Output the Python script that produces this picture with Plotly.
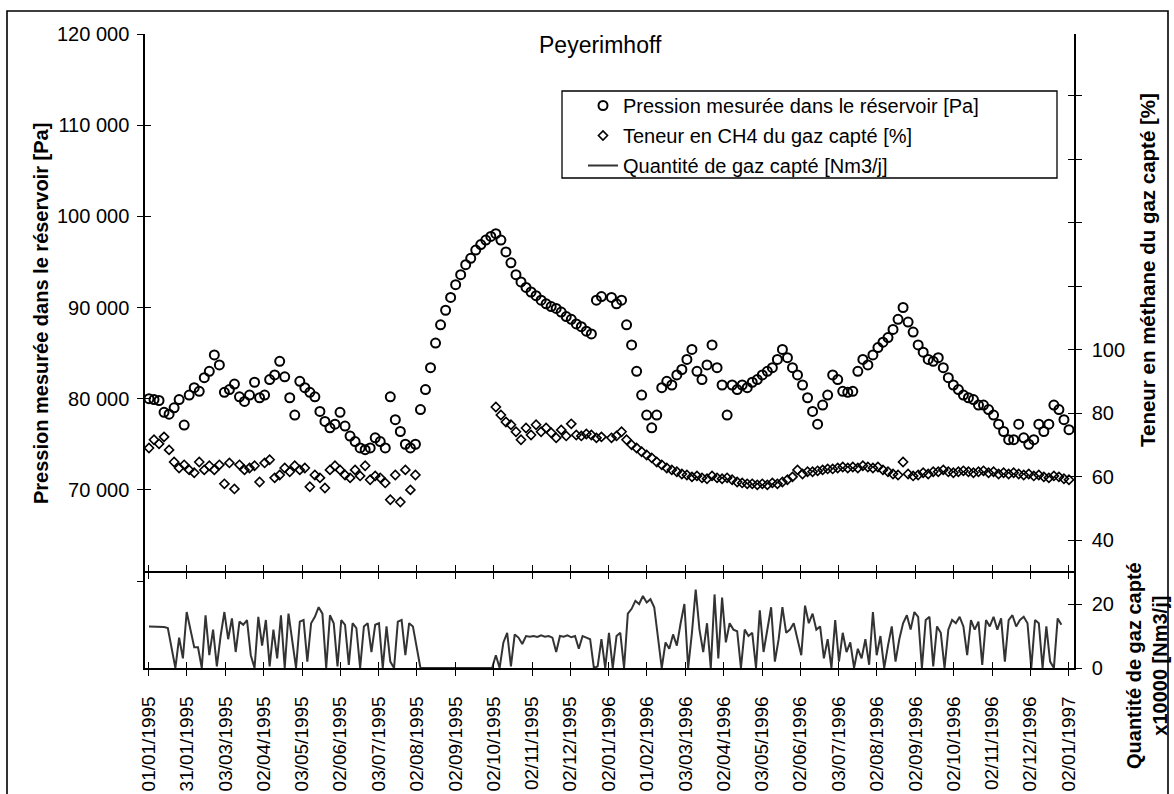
import numpy as np
import pandas as pd
import plotly.graph_objects as go

# ---------------- data ----------------
tick_labels = [
    "01/01/1995", "31/01/1995", "03/03/1995", "02/04/1995", "03/05/1995",
    "02/06/1995", "03/07/1995", "02/08/1995", "02/09/1995", "02/10/1995",
    "02/11/1995", "02/12/1995", "02/01/1996", "01/02/1996", "03/03/1996",
    "02/04/1996", "03/05/1996", "02/06/1996", "03/07/1996", "02/08/1996",
    "02/09/1996", "02/10/1996", "02/11/1996", "02/12/1996", "02/01/1997",
]

# reservoir pressure [Pa], one reading every 4 days (reading for 31/12/1995 dropped)
pression_pa = [
    80000, 79900, 79800, 78500, 78300, 79000, 79900, 77100, 80400, 81200,
    80800, 82300, 83000, 84800, 83700, 80700, 81000, 81600, 80200, 79700,
    80400, 81800, 80100, 80400, 82100, 82600, 84100, 82400, 80100, 78200,
    81900, 81200, 80700, 80200, 78600, 77500, 76800, 77200, 78500, 77000,
    75900, 75300, 74600, 74400, 74600, 75700, 75300, 74600, 80200, 77700,
    76400, 75000, 74600, 75000, 78800, 81000, 83400, 86100, 88100, 89700,
    91100, 92500, 93600, 94700, 95400, 96300, 96900, 97400, 97800, 98100,
    97400, 96100, 94900, 93600, 92800, 92200, 91700, 91300, 90800, 90400,
    90100, 89900, 89500, 89000, 88700, 88200, 87900, 87400, 87100, 90800,
    91200, 91100, 90400, 90800, 88100, 85900, 83000, 80400, 78200,
    76800, 78200, 81200, 81900, 81500, 82600, 83200, 84300, 85400, 83000,
    82100, 83700, 85900, 83400, 81500, 78200, 81500, 81000, 81500, 81200,
    81800, 82100, 82600, 83000, 83400, 84300, 85400, 84500, 83400, 82600,
    81500, 80100, 78600, 77200, 79300, 80400, 82600, 82100, 80800, 80700,
    80800, 83000, 84300, 83700, 84800, 85600, 86200, 86700, 87600, 88700,
    90000, 88400, 87300, 85900, 85100, 84300, 84100, 84500, 83400, 82300,
    81500, 81000, 80400, 80100, 79900, 79300, 79300, 78800, 78200, 77200,
    76400, 75500, 75500, 77200, 75700, 75000, 75500, 77200, 76400, 77200,
    79300, 78800, 77700, 76600,
]

# CH4 content of captured gas [%], same dates (None = no measurement)
teneur_ch4 = [
    69.1, 71.7, 70.4, 72.6, 68.5, 64.7, 62.8, 63.8, 62.2, 61.3,
    64.7, 62.2, 63.5, 62.2, 63.8, 57.8, 64.4, 56.2, 63.8, 62.2,
    62.8, 63.5, 58.4, 64.4, 65.4, 59.7, 60.6, 62.8, 61.6, 63.5,
    62.2, 62.8, 56.9, 60.6, 59.7, 56.5, 62.2, 63.5, 62.2, 60.6,
    59.7, 62.2, 60.3, 63.5, 59.1, 60.3, 59.7, 58.1, 52.8, 60.6,
    52.1, 62.2, 55.9, 60.6,
    None, None, None, None, None, None, None, None, None, None,
    None, None, None, None, None,
    82.0, 79.5, 77.3, 76.4, 74.2, 71.7, 75.4, 73.2, 76.4, 74.2, 75.4,
    73.9, 72.3, 74.8, 72.9, 76.7, 73.2, 72.9, 73.5, 73.2, 72.3,
    72.6, 72.3, 72.9, 74.2, 71.7, 70.1, 69.1, 67.9, 66.9,
    66.0, 64.7, 63.8, 62.8, 62.2, 61.6, 60.9, 60.6, 60.0, 60.3,
    59.7, 59.4, 60.3, 59.7, 59.4, 59.7, 59.1, 58.4, 58.1, 57.8,
    57.8, 57.5, 57.8, 57.5, 58.1, 57.8, 58.4, 59.1, 60.0, 62.2,
    60.9, 61.6, 61.6, 61.9, 62.2, 62.5, 62.5, 62.8, 63.1, 62.8,
    63.1, 62.8, 63.5, 63.1, 62.8, 63.1, 62.2, 61.6, 60.9, 60.6,
    64.7, 60.9, 60.3, 60.6, 61.3, 60.9, 61.6, 61.6, 62.2, 61.6,
    61.3, 61.6, 61.9, 61.6, 61.3, 61.6, 61.9, 61.3, 61.6, 60.9,
    61.3, 60.9, 61.3, 60.9, 60.6, 60.9, 60.3, 60.6, 60.0, 59.7,
    60.3, 60.0, 59.4, 59.1,
]

# captured gas quantity [x10000 Nm3/j], one reading every 3 days
quantite_gaz = [
    13.0, 13.0, 12.8, 13.0, 12.8, 12.5, 6.0, 0.0, 9.5, 3.0,
    17.5, 12.0, 6.5, 6.5, 0.0, 16.5, 4.0, 12.0, 0.5, 10.0,
    17.5, 9.0, 15.5, 5.0, 14.5, 13.5, 15.0, 4.0, 0.0, 16.0,
    7.0, 15.0, 0.5, 12.0, 3.0, 16.5, 0.0, 17.0, 9.0, 0.0,
    14.5, 15.0, 2.0, 14.0, 16.0, 19.0, 17.0, 0.0, 16.5, 14.0,
    0.5, 15.0, 13.5, 1.0, 14.0, 12.5, 0.0, 13.0, 14.0, 5.0,
    13.5, 14.0, 0.0, 13.0, 2.0, 0.0, 14.5, 15.0, 4.0, 14.0,
    13.0, 6.0,
    0.0, 0.0, 0.0, 0.0, 0.0, 0.0, 0.0, 0.0, 0.0, 0.0,
    0.0, 0.0, 0.0, 0.0, 0.0, 0.0, 0.0, 0.0, 0.0, 0.0,
    4.0, 0.0, 8.0, 11.0, 0.5, 10.5, 9.5, 7.5,
    10.0, 9.8, 10.0, 9.7, 10.2, 9.8, 10.0, 9.5, 5.0, 10.0,
    9.8, 10.2, 9.6, 10.0, 6.0, 10.0, 9.5, 9.0, 0.0, 0.5,
    9.0, 0.0, 11.0, 0.0, 10.0, 11.0, 0.0, 17.0, 18.5, 21.0,
    20.0, 22.5, 20.5, 21.5, 19.0, 10.0, 0.0, 8.0, 6.0, 10.5,
    7.0, 14.0, 20.0, 0.0, 11.0, 24.5, 12.0, 5.0, 14.0, 0.0,
    23.0, 3.0, 22.0, 8.0, 14.0, 12.0, 11.5, 0.0, 12.0, 10.0,
    11.0, 0.0, 18.0, 5.0, 12.0, 19.0, 2.0, 9.0, 19.0, 11.0,
    12.0, 14.0, 9.0, 4.0, 19.5, 14.0, 17.0, 12.0, 13.0, 3.0,
    9.0, 0.0, 15.0, 2.0, 11.0, 5.0, 8.0, 0.0, 6.0, 3.0,
    9.0, 1.0, 17.5, 4.0, 10.0, 0.0, 7.0, 13.0, 2.0, 9.0,
    14.0, 16.5, 12.0, 17.5, 16.0, 0.0, 15.0, 16.0, 0.5, 13.0,
    11.0, 0.0, 12.0, 15.0, 14.0, 16.0, 13.0, 4.0, 15.0, 12.0,
    14.5, 1.0, 15.0, 13.0, 16.0, 12.0, 15.5, 2.0, 15.0, 16.5,
    13.0, 15.0, 16.0, 14.0, 0.0, 15.0, 14.0, 0.0, 13.0, 2.0,
    0.0, 15.5, 13.5,
]

pression_ticks = [60000, 70000, 80000, 90000, 100000, 110000, 120000]
pression_ticktext = ["", "70 000", "80 000", "90 000", "100 000", "110 000", "120 000"]
ch4_ticks = [40, 60, 80, 100, 120, 140, 160, 180, 200]
ch4_ticktext = ["40", "60", "80", "100", "", "", "", "", ""]
gaz_ticks = [0, 20]

# ---------------- dates ----------------
dates_4j = pd.date_range("1995-01-01", periods=184, freq="4D").delete(91)
dates_3j = pd.date_range("1995-01-01", periods=len(quantite_gaz), freq="3D")
tick_dates = pd.to_datetime(tick_labels, format="%d/%m/%Y")

# ---------------- geometry ----------------
W, H = 1174, 794
L, R, T, B = 145, 100, 34, 126
PW, PH = W - L - R, H - T - B


def px(x):
    return (x - L) / PW


def py(y):
    return (H - B - y) / PH


FONT = "Liberation Sans, Arial, Helvetica, sans-serif"
xr = ["1994-12-28 20:00", "1997-01-06"]
dq = py(573)
dm = py(581)

fig = go.Figure()

fig.add_trace(go.Scatter(
    x=dates_4j, y=pression_pa, xaxis="x2", yaxis="y2", mode="markers",
    name="Pression mesurée dans le réservoir [Pa]", legendgroup="a",
    marker=dict(symbol="circle-open", size=9, color="black", line=dict(width=2, color="black")),
))
fig.add_trace(go.Scatter(
    x=dates_4j, y=teneur_ch4, xaxis="x2", yaxis="y3", mode="markers",
    name="Teneur en CH4 du gaz capté [%]", legendgroup="b",
    marker=dict(symbol="diamond-open", size=7, color="black", line=dict(width=1.6, color="black")),
))
fig.add_trace(go.Scatter(
    x=dates_3j, y=quantite_gaz, xaxis="x", yaxis="y", mode="lines",
    name="Quantité de gaz capté [Nm3/j]", legendgroup="c",
    line=dict(color="#333333", width=2),
))
# empty traces registering the overlay axes used for crossing ticks
for xa, ya in [("x3", "y"), ("x", "y4"), ("x2", "y5"), ("x2", "y6")]:
    fig.add_trace(go.Scatter(x=[], y=[], xaxis=xa, yaxis=ya, showlegend=False, hoverinfo="skip"))

axis_common = dict(showgrid=False, zeroline=False, tickcolor="black", tickwidth=1.4, ticklen=6,
                   linecolor="black", linewidth=1.5, automargin=False,
                   tickfont=dict(size=20, family=FONT, color="black"))
xaxis_common = dict(axis_common, tickfont=dict(size=19, family=FONT, color="black"))

fig.update_layout(
    width=W, height=H,
    margin=dict(l=L, r=R, t=T, b=B, autoexpand=False),
    paper_bgcolor="white", plot_bgcolor="rgba(0,0,0,0)",
    font=dict(family=FONT, size=20, color="black"),
    showlegend=True,
    legend=dict(x=px(583), y=py(86), xanchor="left", yanchor="top",
                borderwidth=0, bgcolor="rgba(0,0,0,0)",
                font=dict(size=20, family=FONT, color="black"),
                traceorder="grouped", tracegroupgap=1, itemwidth=30),
    xaxis=dict(domain=[0, 1], anchor="y", type="date", range=xr, tickmode="array",
               tickvals=tick_dates, ticktext=tick_labels, tickangle=-90, ticks="outside",
               showline=True, mirror="ticks", ticklabelstandoff=13, **xaxis_common),
    xaxis3=dict(overlaying="x", anchor="y", type="date", range=xr, tickmode="array",
                tickvals=tick_dates, ticks="inside", mirror="ticks", showline=False,
                showticklabels=False, **xaxis_common),
    xaxis2=dict(domain=[0, 1], anchor="y2", type="date", range=xr, visible=False),
    yaxis=dict(domain=[0, dq], anchor="x", side="right", range=[0, 29.7], tickmode="array",
               tickvals=gaz_ticks, ticks="outside", showline=True, mirror=True,
               ticklabelstandoff=6, **axis_common),
    yaxis4=dict(overlaying="y", anchor="x", side="right", range=[0, 29.7], tickmode="array",
                tickvals=gaz_ticks, ticks="inside", showline=False, showticklabels=False, **axis_common),
    yaxis2=dict(domain=[dm, 1], anchor="x2", side="left", range=[60000, 120000], tickmode="array",
                tickvals=pression_ticks, ticktext=pression_ticktext, ticks="outside", showline=True,
                ticklabelstandoff=4, **axis_common),
    yaxis5=dict(overlaying="y2", anchor="x2", side="left", range=[60000, 120000], tickmode="array",
                tickvals=pression_ticks, ticks="inside", showline=False, showticklabels=False, **axis_common),
    yaxis3=dict(overlaying="y2", anchor="x2", side="right", range=[27.2, 199.5], tickmode="array",
                tickvals=ch4_ticks, ticktext=ch4_ticktext, ticks="outside", showline=True,
                ticklabelstandoff=6, **axis_common),
    yaxis6=dict(overlaying="y2", anchor="x2", side="right", range=[27.2, 199.5], tickmode="array",
                tickvals=ch4_ticks, ticks="inside", showline=False, showticklabels=False, **axis_common),
)

ann_common = dict(xref="paper", yref="paper", showarrow=False, xanchor="center", yanchor="middle")
annotations = [
    dict(text="Peyerimhoff", x=px(600), y=py(45), font=dict(size=23, family=FONT, color="black"),
         **ann_common),
    dict(text="<b>Pression mesurée dans le réservoir [Pa]</b>", x=px(41), y=py(314), textangle=-90,
         font=dict(size=20, family=FONT, color="black"), **ann_common),
    dict(text="<b>Teneur en méthane du gaz capté [%]</b>", x=px(1147), y=py(270), textangle=-90,
         font=dict(size=20.5, family=FONT, color="black"), **ann_common),
    dict(text="<b>Quantité de gaz capté<br>x10000 [Nm3/j]</b>", x=px(1147), y=py(666), textangle=-90,
         font=dict(size=20, family=FONT, color="black"), **ann_common),
]
fig.update_layout(annotations=annotations)

# outer frame of the figure and the legend box
fig.add_shape(type="rect", xref="paper", yref="paper",
              x0=px(7), x1=px(1168), y0=py(820), y1=py(11),
              line=dict(color="black", width=1.6), fillcolor="rgba(0,0,0,0)", layer="below")
fig.add_shape(type="rect", xref="paper", yref="paper",
              x0=px(562), x1=px(1057), y0=py(178), y1=py(91),
              line=dict(color="black", width=1.3), fillcolor="rgba(0,0,0,0)", layer="above")

fig.write_html("out.html", config={"displayModeBar": False},
               post_script="document.body.style.margin='0';")
